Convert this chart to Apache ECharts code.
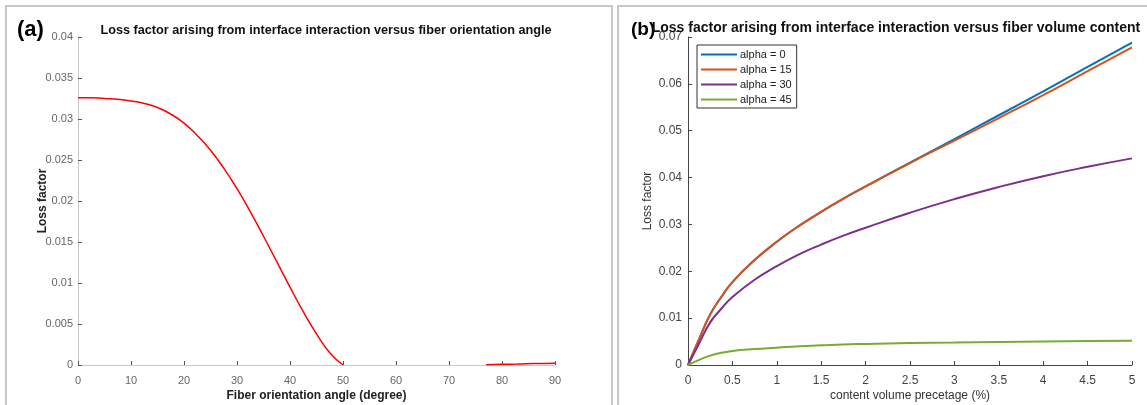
<!DOCTYPE html>
<html>
<head>
<meta charset="utf-8">
<script src="https://cdn.jsdelivr.net/npm/echarts@6/dist/echarts.min.js"></script>
<style>
  html, body { margin: 0; padding: 0; background: #fff; }
  #chart { width: 1147px; height: 405px; }
</style>
</head>
<body>
<div id="chart"></div>
<script>
// panel (a): loss factor vs fiber orientation angle
const angles = [0, 2.5, 5, 7.5, 10, 12.5, 15, 17.5, 20, 22.5, 25, 27.5, 30, 32.5, 35, 37.5, 40, 42.5, 45, 47.5, 50]
const lossAngle = [0.0326, 0.0326, 0.0325, 0.0324, 0.0322, 0.0319, 0.0314, 0.0306, 0.0295, 0.0280, 0.0262, 0.0240,
  0.0215, 0.0187, 0.0157, 0.0126, 0.0095, 0.0065, 0.0038, 0.0015, 0.0000]
const tailAngles = [77, 80, 83, 86, 90]
const tailLoss = [0.00002, 0.00008, 0.00012, 0.00018, 0.00022]

// panel (b): loss factor vs fiber volume content
const content = [0, 0.125, 0.25, 0.375, 0.5, 0.75, 1, 1.25, 1.5, 1.75, 2, 2.5, 3, 3.5, 4, 4.5, 5]
const alpha0 = [0, 0.0055, 0.0108, 0.0145, 0.0177, 0.0224, 0.0263, 0.0297, 0.0327, 0.0355, 0.0381, 0.0432, 0.0482, 0.0533, 0.0584, 0.0636, 0.0688]
const alpha15 = [0, 0.0055, 0.0108, 0.0145, 0.0177, 0.0224, 0.0263, 0.0297, 0.0327, 0.0355, 0.0381, 0.0431, 0.0479, 0.0527, 0.0576, 0.0627, 0.0678]
const alpha30 = [0, 0.0046, 0.0091, 0.0120, 0.0145, 0.0182, 0.0211, 0.0236, 0.0257, 0.0276, 0.0293, 0.0325, 0.0354, 0.0380, 0.0403, 0.0423, 0.0441]
const alpha45 = [0, 0.0011, 0.0020, 0.0026, 0.0030, 0.0034, 0.0037, 0.0040, 0.0042, 0.0044, 0.0045, 0.0047, 0.0048, 0.0049, 0.0050, 0.0051, 0.0052]
const legendNames = ['alpha = 0', 'alpha = 15', 'alpha = 30', 'alpha = 45']
const colors = ['#0072BD', '#D95319', '#7E2F8E', '#77AC30']

const zip = (xs, ys) => xs.map((x, i) => [x, ys[i]])
const font = 'Liberation Sans, Arial, sans-serif'

const chart = echarts.init(document.getElementById('chart'))

const lineSeries = (name, xi, data, color, width) => ({
  name: name,
  type: 'line',
  xAxisIndex: xi,
  yAxisIndex: xi,
  data: data,
  smooth: true,
  showSymbol: false,
  symbol: 'none',
  lineStyle: { color: color, width: width },
  itemStyle: { color: color },
  animation: false
})

chart.setOption({
  textStyle: { fontFamily: font },
  graphic: [
    { type: 'rect', shape: { x: 6, y: 6, width: 606, height: 420 }, style: { fill: 'none', stroke: '#c8c8c8', lineWidth: 2 } },
    { type: 'rect', shape: { x: 618, y: 6, width: 560, height: 420 }, style: { fill: 'none', stroke: '#c8c8c8', lineWidth: 2 } }
  ],
  title: [
    { text: '(a)', left: 12, top: 14, textStyle: { fontSize: 22, fontWeight: 'bold', color: '#000', fontFamily: font } },
    { text: '(b)', left: 626, top: 15, textStyle: { fontSize: 19, fontWeight: 'bold', color: '#000', fontFamily: font } },
    { text: 'Loss factor arising from interface interaction versus fiber orientation angle', left: 321, top: 19, textAlign: 'center',
      textStyle: { fontSize: 12.7, fontWeight: 'bold', color: '#111', fontFamily: font } },
    { text: 'Loss factor arising from interface interaction versus fiber volume content', left: 891, top: 16, textAlign: 'center',
      textStyle: { fontSize: 14, fontWeight: 'bold', color: '#111', fontFamily: font } }
  ],
  legend: {
    data: legendNames,
    orient: 'vertical',
    left: 697,
    top: 45,
    itemWidth: 36,
    itemHeight: 2,
    itemGap: 4,
    padding: [4, 5, 3, 4],
    backgroundColor: '#fff',
    borderColor: '#333',
    borderWidth: 1,
    icon: 'rect',
    textStyle: { fontSize: 11, color: '#222', padding: [0, 0, 0, -2] }
  },
  grid: [
    { left: 78, top: 37, width: 477, height: 328, outerBoundsMode: 'none' },
    { left: 688, top: 37, width: 444, height: 328, outerBoundsMode: 'none' }
  ],
  xAxis: [
    {
      type: 'value', gridIndex: 0, min: 0, max: 90, interval: 10,
      name: 'Fiber orientation angle (degree)', nameLocation: 'middle', nameGap: 25, nameMoveOverlap: false,
      nameTextStyle: { fontSize: 12, fontWeight: 'bold', color: '#222' },
      axisLine: { show: true, lineStyle: { color: '#c8c8c8', width: 1 } },
      axisTick: { show: true, inside: true, length: 4, lineStyle: { color: '#555' } },
      axisLabel: { fontSize: 11, color: '#666', margin: 10 },
      splitLine: { show: false }
    },
    {
      type: 'value', gridIndex: 1, min: 0, max: 5, interval: 0.5,
      name: 'content volume precetage (%)', nameLocation: 'middle', nameGap: 25, nameMoveOverlap: false,
      nameTextStyle: { fontSize: 12, color: '#333' },
      axisLine: { show: true, lineStyle: { color: '#444', width: 1 } },
      axisTick: { show: true, inside: true, length: 4, lineStyle: { color: '#444' } },
      axisLabel: { fontSize: 12, color: '#444', margin: 10 },
      splitLine: { show: false }
    }
  ],
  yAxis: [
    {
      type: 'value', gridIndex: 0, min: 0, max: 0.04, interval: 0.005,
      name: 'Loss factor', nameLocation: 'middle', nameGap: 29, nameMoveOverlap: false,
      nameTextStyle: { fontSize: 12, fontWeight: 'bold', color: '#222' },
      axisLine: { show: true, lineStyle: { color: '#c8c8c8', width: 1 } },
      axisTick: { show: true, inside: true, length: 4, lineStyle: { color: '#555' } },
      axisLabel: { fontSize: 11, color: '#666', margin: 5 },
      splitLine: { show: false }
    },
    {
      type: 'value', gridIndex: 1, min: 0, max: 0.07, interval: 0.01,
      name: 'Loss factor', nameLocation: 'middle', nameGap: 34, nameMoveOverlap: false,
      nameTextStyle: { fontSize: 12, color: '#333' },
      axisLine: { show: true, lineStyle: { color: '#444', width: 1 } },
      axisTick: { show: true, inside: true, length: 4, lineStyle: { color: '#444' } },
      axisLabel: { fontSize: 12, color: '#444', margin: 6 },
      splitLine: { show: false }
    }
  ],
  series: [
    lineSeries('angle', 0, zip(angles, lossAngle), '#ff0000', 1.5),
    lineSeries('tail', 0, zip(tailAngles, tailLoss), '#ff0000', 1.5),
    lineSeries(legendNames[0], 1, zip(content, alpha0), colors[0], 2),
    lineSeries(legendNames[1], 1, zip(content, alpha15), colors[1], 2),
    lineSeries(legendNames[2], 1, zip(content, alpha30), colors[2], 2),
    lineSeries(legendNames[3], 1, zip(content, alpha45), colors[3], 2)
  ]
})
</script>
</body>
</html>
